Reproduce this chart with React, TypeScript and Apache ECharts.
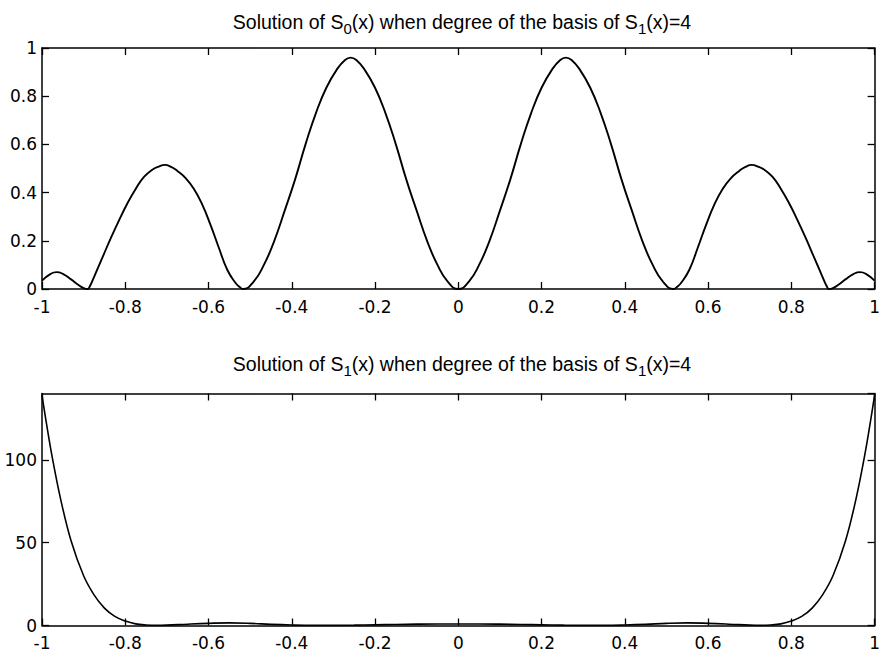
import React, { useEffect, useRef } from "react";
import * as echarts from "echarts";

// Top panel: S0(x)
const s0X = [
  -1, -0.98, -0.965, -0.95, -0.93, -0.915, -0.9, -0.89, -0.886, -0.88,
  -0.87, -0.855, -0.835, -0.815, -0.795, -0.775, -0.755, -0.735, -0.72, -0.705,
  -0.69, -0.675, -0.655, -0.635, -0.615, -0.595, -0.575, -0.555, -0.535, -0.525,
  -0.517, -0.492, -0.467, -0.442, -0.417, -0.392, -0.367, -0.342, -0.317, -0.292,
  -0.272, -0.2585, -0.245, -0.225, -0.2, -0.175, -0.15, -0.125, -0.1, -0.075,
  -0.05, -0.025,
  0,
  0.025, 0.05, 0.075, 0.1, 0.125, 0.15, 0.175, 0.2, 0.225, 0.245,
  0.2585, 0.272, 0.292, 0.317, 0.342, 0.367, 0.392, 0.417, 0.442, 0.467,
  0.492, 0.517, 0.525, 0.535, 0.555, 0.575, 0.595, 0.615, 0.635, 0.655,
  0.675, 0.69, 0.705, 0.72, 0.735, 0.755, 0.775, 0.795, 0.815, 0.835,
  0.855, 0.87, 0.88, 0.886, 0.89, 0.9, 0.915, 0.93, 0.95, 0.965,
  0.98, 1,
];
const s0Y = [
  0.035, 0.062, 0.07, 0.063, 0.04, 0.02, 0.004, 0, 0.008, 0.03,
  0.07, 0.13, 0.21, 0.285, 0.355, 0.415, 0.465, 0.495, 0.508, 0.515,
  0.507, 0.49, 0.46, 0.415, 0.35, 0.265, 0.17, 0.08, 0.025, 0.008,
  0, 0.03, 0.1, 0.2, 0.325, 0.455, 0.6, 0.73, 0.835, 0.91,
  0.95, 0.96, 0.95, 0.91, 0.835, 0.73, 0.6, 0.455, 0.325, 0.2,
  0.1, 0.03,
  0,
  0.03, 0.1, 0.2, 0.325, 0.455, 0.6, 0.73, 0.835, 0.91, 0.95,
  0.96, 0.95, 0.91, 0.835, 0.73, 0.6, 0.455, 0.325, 0.2, 0.1,
  0.03, 0, 0.008, 0.025, 0.08, 0.17, 0.265, 0.35, 0.415, 0.46,
  0.49, 0.507, 0.515, 0.508, 0.495, 0.465, 0.415, 0.355, 0.285, 0.21,
  0.13, 0.07, 0.03, 0.008, 0, 0.004, 0.02, 0.04, 0.063, 0.07,
  0.062, 0.035,
];

// Bottom panel: S1(x)
const s1X = [
  -1, -0.99, -0.975, -0.955, -0.93, -0.9, -0.875, -0.85, -0.825, -0.8,
  -0.775, -0.75, -0.725, -0.7, -0.65, -0.6, -0.55, -0.5, -0.45, -0.4,
  -0.35, -0.3, -0.25, -0.2, -0.15, -0.1, -0.05, 0, 0.05, 0.1,
  0.15, 0.2, 0.25, 0.3, 0.35, 0.4, 0.45, 0.5, 0.55, 0.6,
  0.65, 0.7, 0.725, 0.75, 0.775, 0.8, 0.825, 0.85, 0.875, 0.9,
  0.93, 0.955, 0.975, 0.99, 1,
];
const s1Y = [
  139, 123, 101, 76, 51, 30, 18.5, 10.5, 5.5, 2.7,
  1.0, 0.3, 0.05, 0.2, 0.8, 1.3, 1.6, 1.3, 0.7, 0.3,
  0.1, 0.1, 0.2, 0.4, 0.6, 0.8, 0.9, 0.9, 0.9, 0.8,
  0.6, 0.4, 0.2, 0.1, 0.1, 0.3, 0.7, 1.3, 1.6, 1.3,
  0.8, 0.2, 0.05, 0.3, 1.0, 2.7, 5.5, 10.5, 18.5, 30,
  51, 76, 101, 123, 139,
];

const xRange = [-1, 1];
const xStep = 0.2;
const topYRange = [0, 1];
const topYStep = 0.2;
const bottomYRange = [0, 140];
const bottomYStep = 50;

const titleTop = "Solution of S{s|0}(x) when degree of the basis of S{s|1}(x)=4";
const titleBottom = "Solution of S{s|1}(x) when degree of the basis of S{s|1}(x)=4";

const W = 883;
const H = 652;
const PLOT_LEFT = 42;
const PLOT_W = 840;
const TOP_PLOT_TOP = 48;
const TOP_PLOT_H = 241;
const BOT_PLOT_TOP = 393.5;
const BOT_PLOT_H = 232;

const TICK_FONT = "'DejaVu Sans', 'Liberation Sans', Arial, sans-serif";
const TITLE_FONT = "'Liberation Sans', Arial, Helvetica, sans-serif";

function pairs(xs: number[], ys: number[]) {
  return xs.map((x, i) => [x, ys[i]]);
}

const axisLine = { show: true, onZero: false, lineStyle: { color: "#000", width: 1.5 } };
const tickStyle = { show: true, inside: true, length: 7, lineStyle: { color: "#000", width: 1.3 } };
const labelStyle = { color: "#000", fontFamily: TICK_FONT, fontSize: 17 };

export default function App() {
  const ref = useRef<HTMLDivElement>(null);

  useEffect(() => {
    document.body.style.margin = "0";
    if (!ref.current) return;
    const chart = echarts.init(ref.current, undefined, { renderer: "svg" });

    const makeX = (gridIndex: number, position: "bottom" | "top", labels: boolean) => ({
      type: "value",
      gridIndex,
      position,
      min: xRange[0],
      max: xRange[1],
      interval: xStep,
      axisLine,
      axisTick: tickStyle,
      splitLine: { show: false },
      axisLabel: labels ? { ...labelStyle, margin: 9 } : { show: false },
    });
    const makeY = (
      gridIndex: number,
      position: "left" | "right",
      labels: boolean,
      range: number[],
      step: number,
      hideMax: boolean
    ) => ({
      type: "value",
      gridIndex,
      position,
      min: range[0],
      max: range[1],
      interval: step,
      axisLine,
      axisTick: tickStyle,
      splitLine: { show: false },
      axisLabel: labels
        ? { ...labelStyle, margin: 5, showMaxLabel: !hideMax }
        : { show: false },
    });

    const richSub = {
      s: {
        fontSize: 15,
        fontFamily: TITLE_FONT,
        fill: "#000",
        lineHeight: 16,
        verticalAlign: "bottom",
      },
    };

    chart.setOption({
      animation: false,
      backgroundColor: "#fff",
      grid: [
        { left: PLOT_LEFT, top: TOP_PLOT_TOP, width: PLOT_W, height: TOP_PLOT_H },
        { left: PLOT_LEFT, top: BOT_PLOT_TOP, width: PLOT_W, height: BOT_PLOT_H },
      ],
      xAxis: [
        makeX(0, "bottom", true),
        makeX(0, "top", false),
        makeX(1, "bottom", true),
        makeX(1, "top", false),
      ],
      yAxis: [
        makeY(0, "left", true, topYRange, topYStep, false),
        makeY(0, "right", false, topYRange, topYStep, false),
        makeY(1, "left", true, bottomYRange, bottomYStep, true),
        makeY(1, "right", false, bottomYRange, bottomYStep, true),
      ],
      series: [
        {
          type: "line",
          xAxisIndex: 0,
          yAxisIndex: 0,
          data: pairs(s0X, s0Y),
          showSymbol: false,
          smooth: 0.5,
          lineStyle: { color: "#000", width: 1.9 },
          silent: true,
        },
        {
          type: "line",
          xAxisIndex: 2,
          yAxisIndex: 2,
          data: pairs(s1X, s1Y),
          showSymbol: false,
          smooth: 0.4,
          lineStyle: { color: "#000", width: 1.6 },
          silent: true,
        },
      ],
      graphic: [
        {
          type: "text",
          x: PLOT_LEFT + PLOT_W / 2,
          y: 8,
          style: {
            text: titleTop,
            textAlign: "center",
            textVerticalAlign: "top",
            fontSize: 19.5,
            fontFamily: TITLE_FONT,
            fill: "#000",
            lineHeight: 28,
            rich: richSub,
          },
        },
        {
          type: "text",
          x: PLOT_LEFT + PLOT_W / 2,
          y: 350,
          style: {
            text: titleBottom,
            textAlign: "center",
            textVerticalAlign: "top",
            fontSize: 19.5,
            fontFamily: TITLE_FONT,
            fill: "#000",
            lineHeight: 28,
            rich: richSub,
          },
        },
      ],
    });

    return () => chart.dispose();
  }, []);

  return <div ref={ref} style={{ width: W, height: H }} />;
}
